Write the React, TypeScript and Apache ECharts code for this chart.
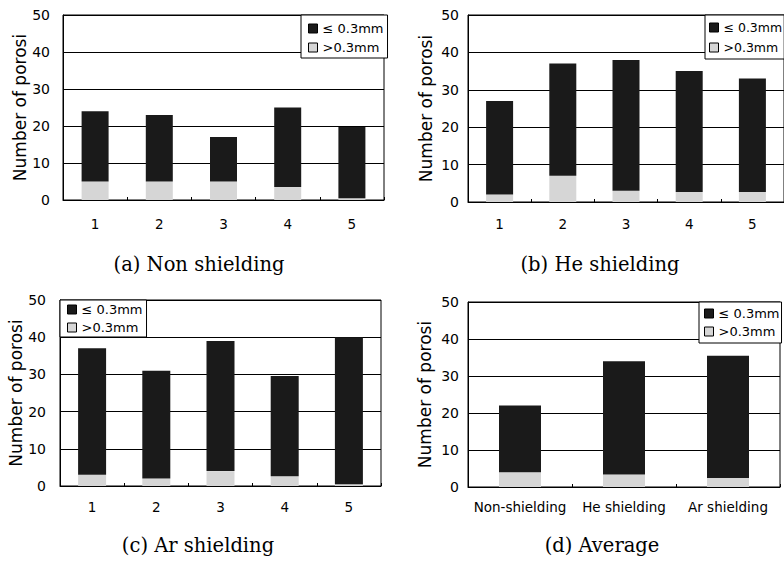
import React, { useEffect, useRef } from 'react';
import * as echarts from 'echarts';

const numCats = ['1', '2', '3', '4', '5'];
const avgCats = ['Non-shielding', 'He shielding', 'Ar shielding'];
const yTicks = [0, 10, 20, 30, 40, 50];

const nonLE = [19, 18, 12, 21.5, 19.2];
const nonGT = [5, 5, 5, 3.5, 0.5];
const heLE = [25, 30, 35, 32.3, 30.3];
const heGT = [2, 7, 3, 2.7, 2.7];
const arLE = [34, 29, 35, 27, 39.5];
const arGT = [3, 2, 4, 2.6, 0.5];
const avgLE = [18, 30.6, 33.1];
const avgGT = [4, 3.4, 2.4];

const captions = ['(a) Non shielding', '(b) He shielding', '(c) Ar shielding', '(d) Average'];
const LE = '≤ 0.3mm';
const GT = '>0.3mm';
const yName = 'Number of porosi';

const panelData = [
  { cats: numCats, le: nonLE, gt: nonGT },
  { cats: numCats, le: heLE, gt: heGT },
  { cats: numCats, le: arLE, gt: arGT },
  { cats: avgCats, le: avgLE, gt: avgGT },
];

const layouts = [
  { grid: { left: 63, top: 15, width: 321, height: 185 }, barWidth: 27, xMargin: 17, yMargin: 13, nameGap: 33,
    legend: { left: 301, top: 15, padding: [7, 4, 4, 7], itemGap: 6, fontSize: 13 }, cap: [199, 264] },
  { grid: { left: 468, top: 15, width: 320, height: 187 }, barWidth: 27, xMargin: 15, yMargin: 9, nameGap: 34,
    legend: { left: 705, top: 15, padding: [6, 2, 5, 4], itemGap: 7, fontSize: 12.5 }, cap: [600, 264] },
  { grid: { left: 60, top: 300, width: 321, height: 186 }, barWidth: 28, xMargin: 14, yMargin: 14, nameGap: 32,
    legend: { left: 60, top: 300, padding: [3, 4, 3, 7], itemGap: 5, fontSize: 13 }, cap: [198, 545] },
  { grid: { left: 468, top: 302, width: 312, height: 185 }, barWidth: 42, xMargin: 13, yMargin: 9, nameGap: 35,
    legend: { left: 699, top: 302, padding: [5, 2, 5, 5], itemGap: 5, fontSize: 13 }, cap: [602, 545] },
];

const SANS = 'DejaVu Sans';
const DARK = '#1a1a1a';
const LIGHT = '#d6d6d6';

export default function App() {
  const ref = useRef<HTMLDivElement>(null);
  useEffect(() => {
    if (!ref.current) return;
    const chart = echarts.init(ref.current, undefined, { renderer: 'svg' });
    const grids: any[] = [];
    const xAxes: any[] = [];
    const yAxes: any[] = [];
    const legends: any[] = [];
    const series: any[] = [];
    const graphics: any[] = [];
    panelData.forEach((p, i) => {
      const L = layouts[i];
      grids.push({ ...L.grid, show: true, borderColor: '#000', borderWidth: 1, backgroundColor: 'transparent' });
      xAxes.push({
        type: 'category', gridIndex: i, data: p.cats,
        axisLine: { show: true, lineStyle: { color: '#000', width: 1 } },
        axisTick: { show: true, inside: true, length: 3, lineStyle: { color: '#000' } },
        axisLabel: { interval: 0, margin: L.xMargin, color: '#000', fontFamily: SANS, fontSize: 13.5 },
      });
      yAxes.push({
        type: 'value', gridIndex: i, min: yTicks[0], max: yTicks[yTicks.length - 1], interval: yTicks[1] - yTicks[0],
        axisLine: { show: true, lineStyle: { color: '#000', width: 1 } },
        axisTick: { show: false },
        splitLine: { show: true, lineStyle: { color: '#000', width: 1 } },
        axisLabel: { margin: L.yMargin, color: '#000', fontFamily: SANS, fontSize: 14 },
        name: yName, nameLocation: 'middle', nameGap: L.nameGap,
        nameTextStyle: { color: '#000', fontFamily: SANS, fontSize: 17 },
      });
      legends.push({
        orient: 'vertical', left: L.legend.left, top: L.legend.top, padding: L.legend.padding, itemGap: L.legend.itemGap,
        backgroundColor: '#fff', borderColor: '#000', borderWidth: 1, borderRadius: 0,
        itemWidth: 9, itemHeight: 9, selectedMode: false, icon: 'rect',
        itemStyle: { borderColor: '#000', borderWidth: 1 },
        textStyle: { color: '#000', fontFamily: SANS, fontSize: L.legend.fontSize },
        data: [LE, GT],
      });
      series.push({
        name: GT, type: 'bar', xAxisIndex: i, yAxisIndex: i, stack: 's' + i, data: p.gt,
        barWidth: L.barWidth, itemStyle: { color: LIGHT }, z: 2,
      });
      series.push({
        name: LE, type: 'bar', xAxisIndex: i, yAxisIndex: i, stack: 's' + i, data: p.le,
        barWidth: L.barWidth, itemStyle: { color: DARK }, z: 2,
      });
      graphics.push({
        type: 'text', x: L.cap[0], y: L.cap[1],
        style: { text: captions[i], fill: '#000', font: '19.5px "DejaVu Serif"', align: 'center', verticalAlign: 'middle' },
      });
    });
    chart.setOption({
      animation: false,
      backgroundColor: '#fff',
      grid: grids, xAxis: xAxes, yAxis: yAxes, legend: legends, series, graphic: graphics,
    });
    return () => chart.dispose();
  }, []);
  return <div ref={ref} style={{ position: 'fixed', left: 0, top: 0, width: 784, height: 561 }} />;
}
